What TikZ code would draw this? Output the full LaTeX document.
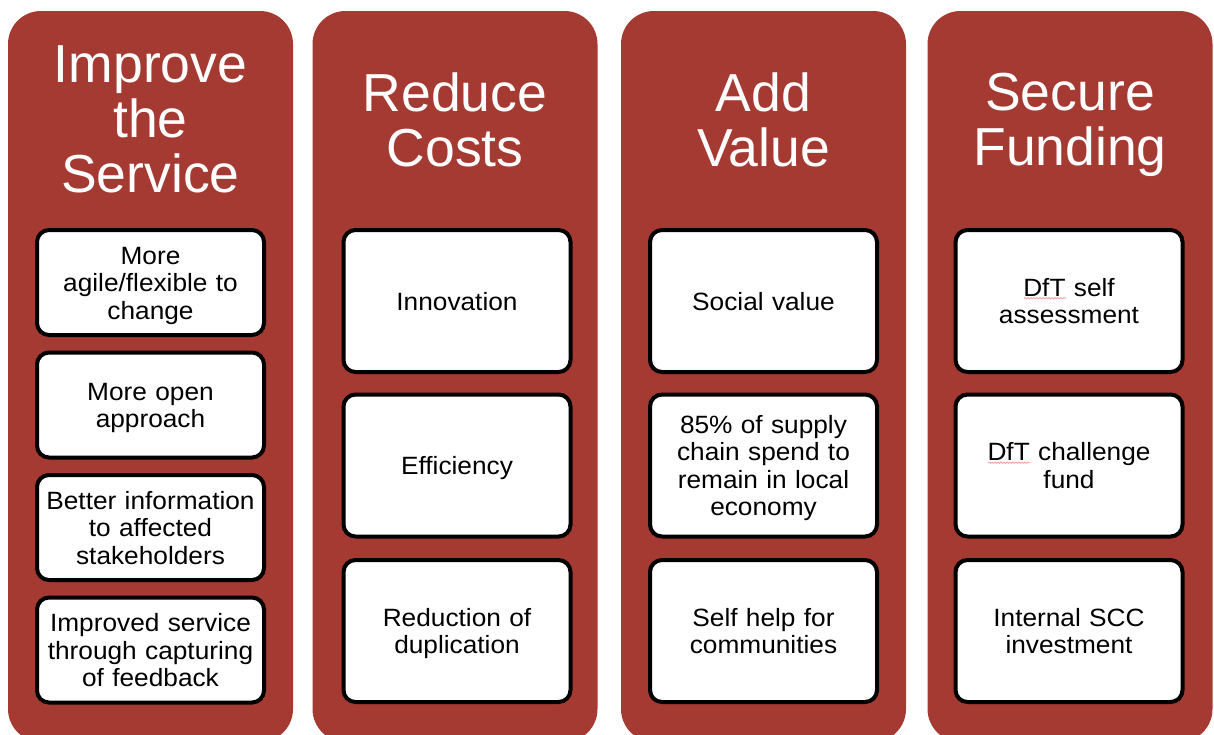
\documentclass[tikz,border=0pt]{standalone}
\usepackage{fontspec}
\setmainfont{Liberation Sans}
\newfontfamily\boxfamily{Liberation Sans}[FakeStretch=1.05]
\usetikzlibrary{calc, decorations.pathmorphing}
\definecolor{brick}{HTML}{A53A33}
\definecolor{spell}{HTML}{F2A6A6}

\tikzset{
  pillar/.style={fill=brick, rounded corners=33pt, minimum width=285pt, minimum height=731pt, inner sep=0pt},
  heading/.style={text=white, align=center, inner sep=0pt, font=\fontsize{53.5}{55}\selectfont},
  itembox/.style={draw=black, fill=white, line width=4pt, rounded corners=12pt, minimum width=227pt,
    text width=220pt, align=center, inner sep=0pt, font=\boxfamily\fontsize{25}{27.5}\selectfont,
    execute at begin node={\rule{0pt}{24pt}}, execute at end node={\rule[-6pt]{0pt}{6pt}}},
  shortbox/.style={itembox, minimum height=105pt},
  tallbox/.style={itembox, minimum height=142pt},
  squiggle/.style={draw=spell, line width=0.9pt, decorate, decoration={snake, amplitude=0.7pt, segment length=3pt}}
}

\begin{document}
\begin{tikzpicture}[x=1pt, y=-1pt]

        \useasboundingbox (0,0) rectangle (1214,734);
        \clip (0,0) rectangle (1214,734);

        % Four columns, cut off at the bottom edge
        \node[pillar] (service) at (150.5,376.5) {};
        \node[pillar] (costs) at (455,376.5) {};
        \node[pillar] (value) at (763.5,376.5) {};
        \node[pillar] (funding) at (1070,376.5) {};

        % Column headings
        \node[heading] (serviceHead) at (150.5,119) {Improve\\the\\Service};
        \node[heading] (costsHead) at (455,119.5) {Reduce\\Costs};
        \node[heading] (valueHead) at (763.5,119.5) {Add\\Value};
        \node[heading] (fundingHead) at (1070,124.4) {Secure\\Funding};

        % Improve the Service
        \node[shortbox] (serv1) at (150.5,282.5) {More\\agile/flexible to\\change};
        \node[shortbox] (serv2) at (150.5,405) {More open\\approach};
        \node[shortbox] (serv3) at (150.5,527.5) {Better information\\to affected\\stakeholders};
        \node[shortbox] (serv4) at (150.5,650) {Improved service\\through capturing\\of feedback};

        % Reduce Costs
        \node[tallbox] (cost1) at (457,301) {Innovation};
        \node[tallbox] (cost2) at (457,465.5) {Efficiency};
        \node[tallbox] (cost3) at (457,631) {Reduction of\\duplication};

        % Add Value
        \node[tallbox] (val1) at (763.5,301) {Social value};
        \node[tallbox] (val2) at (763.5,465.5) {85\% of supply\\chain spend to\\remain in local\\economy};
        \node[tallbox] (val3) at (763.5,631) {Self help for\\communities};

        % Secure Funding
        \node[tallbox] (fund1) at (1069,301) {DfT self\\assessment};
        \node[tallbox] (fund2) at (1069,465.5) {DfT challenge\\fund};
        \node[tallbox] (fund3) at (1069,631) {Internal SCC\\investment};

        % Spell-check marks under "DfT"
        \draw[squiggle] ($(fund1.center)+(-45,-2.8)$) -- ($(fund1.center)+(-3,-2.8)$);
        \draw[squiggle] ($(fund2.center)+(-81,-2.8)$) -- ($(fund2.center)+(-39,-2.8)$);

\end{tikzpicture}
\end{document}
